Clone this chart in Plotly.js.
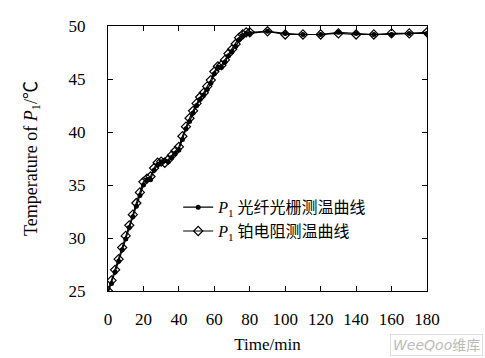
<!DOCTYPE html>
<html>
<head>
<meta charset="utf-8">
<script src="https://cdn.plot.ly/plotly-3.0.1.min.js"></script>
<style>html,body{margin:0;padding:0;background:#fff;}#chart{width:485px;height:358px;}</style>
</head>
<body>
<div id="chart"></div>
<script>
const time = [0,2,4,6,8,10,12,14,16,18,20,22,24,26,28,30,32,34,36,38,40,42,44,46,48,50,52,54,56,58,60,62,64,66,68,70,72,74,76,78,80,90,100,110,120,130,140,150,160,170,180];
const fiberTemp = [24.8,25.7,26.8,27.8,28.9,29.9,31.0,32.0,33.0,34.0,35.0,35.5,35.5,36.4,36.9,37.2,37.3,37.2,37.6,38.0,38.3,39.3,40.3,41.0,41.8,42.5,43.1,43.5,44.0,44.6,45.5,46.1,46.1,46.6,47.2,47.6,48.1,48.7,49.1,49.3,49.3,49.5,49.3,49.2,49.2,49.4,49.3,49.2,49.2,49.3,49.3];
const ptTemp = [25.0,26.0,27.0,28.0,29.1,30.2,31.2,32.2,33.3,34.3,35.3,35.6,35.8,36.6,37.1,37.2,37.1,37.4,37.8,38.2,38.6,39.6,40.5,41.3,42.0,42.7,43.3,43.7,44.3,44.9,45.7,46.2,46.3,46.8,47.4,47.8,48.3,48.9,49.2,49.4,49.4,49.5,49.2,49.2,49.2,49.3,49.2,49.2,49.3,49.3,49.4];
const seriesNames = ["<i>P</i><sub>1</sub> 光纤光栅测温曲线", "<i>P</i><sub>1</sub> 铂电阻测温曲线"];
const xTicks = [0,20,40,60,80,100,120,140,160,180];
const yTicks = [25,30,35,40,45,50];

const serif = "'Liberation Serif', 'Times New Roman', 'Noto Sans CJK SC', serif";

const traces = [
  {x: time, y: fiberTemp, name: seriesNames[0], mode: 'lines+markers', type: 'scatter',
   line: {color: '#000', width: 1.2},
   marker: {symbol: 'circle', size: 5, color: '#000'}},
  {x: time, y: ptTemp, name: seriesNames[1], mode: 'lines+markers', type: 'scatter',
   line: {color: '#000', width: 1.2},
   marker: {symbol: 'diamond-open', size: 7, color: '#000', line: {width: 1.2}}}
];

const axisCommon = {showgrid: false, zeroline: false, showline: true, linecolor: '#000', linewidth: 1.2,
  mirror: 'ticks', ticks: 'inside', ticklen: 5, tickcolor: '#000', tickwidth: 1,
  tickfont: {family: serif, size: 17, color: '#000'}};

const layout = {
  width: 485, height: 358,
  margin: {l: 108, r: 58, t: 26, b: 67},
  paper_bgcolor: '#fff', plot_bgcolor: '#fff',
  showlegend: true,
  legend: {x: 0.22, y: 0.38, xanchor: 'left', yanchor: 'top', bgcolor: 'rgba(0,0,0,0)',
    font: {family: "'Liberation Serif', 'Noto Sans CJK SC', serif", size: 16, color: '#000'},
    tracegroupgap: 0, itemwidth: 30},
  xaxis: Object.assign({}, axisCommon, {range: [0, 180], tickvals: xTicks, ticktext: xTicks.map(String), ticklabelstandoff: 12,
    title: {text: 'Time/min', font: {family: serif, size: 17, color: '#000'}, standoff: 10}}),
  yaxis: Object.assign({}, axisCommon, {range: [25, 50], tickvals: yTicks, ticktext: yTicks.map(String), ticklabelstandoff: 18,
    title: {text: 'Temperature of <i>P</i><sub>1</sub>/℃', font: {family: serif, size: 18, color: '#000'}, standoff: 26}}),
  annotations: [{xref: 'paper', yref: 'paper', x: 1.175, y: -0.245, xanchor: 'right', yanchor: 'bottom',
    text: '<i>WeeQoo</i>维库', showarrow: false, font: {family: "'DejaVu Sans', 'Noto Sans CJK SC', sans-serif", size: 14, color: '#bbb'},
    bordercolor: '#ddd', borderwidth: 1, borderpad: 2}]
};

Plotly.newPlot('chart', traces, layout, {displayModeBar: false, staticPlot: true});
</script>
</body>
</html>
